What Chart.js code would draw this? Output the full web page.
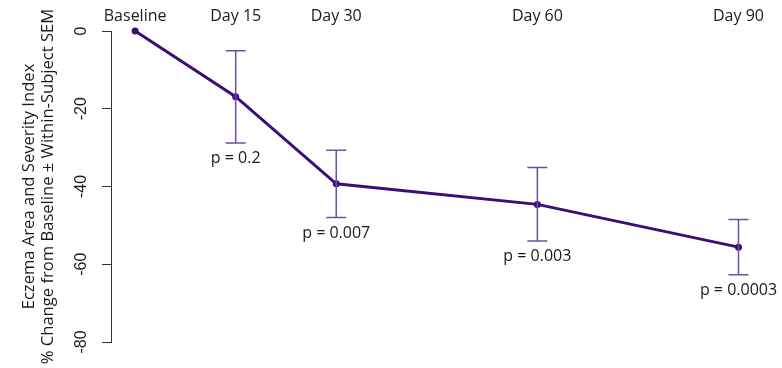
<!DOCTYPE html>
<html>
<head>
<meta charset="utf-8">
<script src="https://cdn.jsdelivr.net/npm/chart.js@4.4.0/dist/chart.umd.min.js"></script>
<style>
  html, body { margin: 0; padding: 0; background: #fff; }
  #wrap { width: 782px; height: 368px; position: relative; }
</style>
</head>
<body>
<div id="wrap"><canvas id="easi-chart"></canvas></div>
<script>
// EASI % change from baseline, mean ± within-subject SEM
const days = [0, 15, 30, 60, 90];
const dayLabels = ["Baseline", "Day 15", "Day 30", "Day 60", "Day 90"];
const meanChange = [0, -16.9, -39.3, -44.6, -55.6];
const semLow = [null, -28.8, -48.0, -54.0, -62.7];
const semHigh = [null, -5.1, -30.7, -35.1, -48.5];
const pLabels = [null, "p = 0.2", "p = 0.007", "p = 0.003", "p = 0.0003"];
const yTicks = [0, -20, -40, -60, -80];
const yTitle = ["Eczema Area and Severity Index", "% Change from Baseline ± Within-Subject SEM"];

const LINE_COLOR = "#3c0d78";
const BAR_COLOR = "#6e4fa6";
const TEXT_COLOR = "#1a1a1a";
const FONT = "'Open Sans', 'Noto Sans', sans-serif";
const TICK_FONT = "'Liberation Sans', Arial, sans-serif";

// error bars, labels and p-values, all positioned through the scales
const annotate = {
  id: "annotate",
  afterDatasetsDraw(chart) {
    const { ctx, chartArea, scales: { x, y } } = chart;
    ctx.save();
    ctx.strokeStyle = BAR_COLOR;
    ctx.lineWidth = 1.5;
    days.forEach((d, i) => {
      if (semLow[i] === null) return;
      const px = x.getPixelForValue(d);
      const top = y.getPixelForValue(semHigh[i]);
      const bot = y.getPixelForValue(semLow[i]);
      ctx.beginPath();
      ctx.moveTo(px, top); ctx.lineTo(px, bot);
      ctx.moveTo(px - 10, top); ctx.lineTo(px + 10, top);
      ctx.moveTo(px - 10, bot); ctx.lineTo(px + 10, bot);
      ctx.stroke();
    });

    ctx.fillStyle = TEXT_COLOR;
    ctx.font = `16px ${FONT}`;
    ctx.textAlign = "center";
    ctx.textBaseline = "alphabetic";
    days.forEach((d, i) => {
      const px = x.getPixelForValue(d);
      ctx.fillText(dayLabels[i], px, 21);
      if (pLabels[i]) {
        ctx.fillText(pLabels[i], px, y.getPixelForValue(semLow[i]) + 20);
      }
    });

    // rotated y tick labels
    ctx.font = `16px ${TICK_FONT}`;
    ctx.textBaseline = "middle";
    yTicks.forEach(v => {
      ctx.save();
      ctx.translate(82, y.getPixelForValue(v));
      ctx.rotate(-Math.PI / 2);
      ctx.fillText(String(v), 0, 0);
      ctx.restore();
    });

    // two-line y title
    ctx.font = `16.6px ${FONT}`;
    ctx.textBaseline = "alphabetic";
    const midY = (chartArea.top + chartArea.bottom) / 2;
    [34, 53].forEach((bx, i) => {
      ctx.save();
      ctx.translate(bx, midY);
      ctx.rotate(-Math.PI / 2);
      ctx.fillText(yTitle[i], 0, 0);
      ctx.restore();
    });
    ctx.restore();
  }
};

new Chart(document.getElementById("easi-chart"), {
  type: "line",
  data: {
    datasets: [{
      data: days.map((d, i) => ({ x: d, y: meanChange[i] })),
      borderColor: LINE_COLOR,
      backgroundColor: LINE_COLOR,
      borderWidth: 3,
      pointRadius: 3.5,
      pointBorderWidth: 0,
      pointHoverRadius: 3.5,
      tension: 0,
      clip: false
    }]
  },
  options: {
    responsive: true,
    maintainAspectRatio: false,
    animation: false,
    layout: { padding: { top: 31, right: 10, bottom: 26, left: 0 } },
    plugins: { legend: { display: false }, tooltip: { enabled: false } },
    scales: {
      x: {
        type: "linear",
        min: -3.6,
        max: 95,
        display: false
      },
      y: {
        min: -80,
        max: 0,
        afterBuildTicks: (axis) => { axis.ticks = yTicks.map(v => ({ value: v })); },
        afterFit: (axis) => { axis.width = 111; },
        grid: { drawOnChartArea: false, tickLength: 9, color: "#333", lineWidth: 1 },
        border: { display: true, color: "#333", width: 1 },
        ticks: { display: false }
      }
    }
  },
  plugins: [annotate]
});
</script>
</body>
</html>
